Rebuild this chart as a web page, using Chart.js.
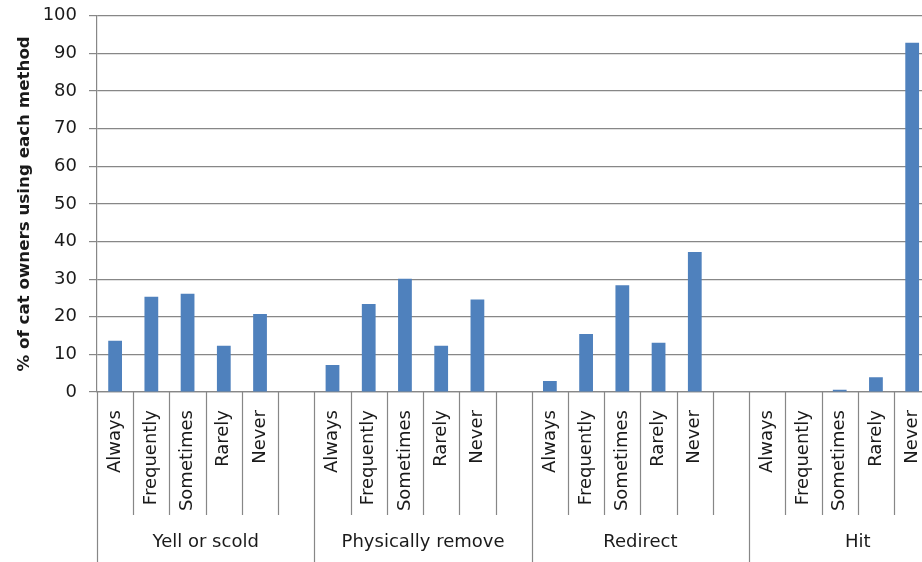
<!DOCTYPE html>
<html>
<head>
<meta charset="utf-8">
<script src="https://cdn.jsdelivr.net/npm/chart.js@4.4.1/dist/chart.umd.min.js"></script>
<style>
  html, body { margin: 0; padding: 0; background: #ffffff; overflow: hidden; }
  #wrap { position: relative; width: 988px; height: 562px; }
</style>
</head>
<body>
<div id="wrap"><canvas id="c"></canvas></div>
<script>
// ---- data ----
const groups = ['Yell or scold', 'Physically remove', 'Redirect', 'Hit'];
const levels = ['Always', 'Frequently', 'Sometimes', 'Rarely', 'Never'];
const yellOrScold      = [13.6, 25.3, 26.1, 12.3, 20.7];
const physicallyRemove = [7.2, 23.4, 30.1, 12.3, 24.6];
const redirect         = [2.9, 15.4, 28.4, 13.1, 37.2];
const hit              = [0, 0, 0.6, 3.9, 92.8];
const yTicks = [0, 10, 20, 30, 40, 50, 60, 70, 80, 90, 100];
const yTitle = '% of cat owners using each method';

// build slots: 5 levels + one empty gap slot per group
const seriesByGroup = [yellOrScold, physicallyRemove, redirect, hit];
const slotLabels = [];
const slotValues = [];
seriesByGroup.forEach(vals => {
  levels.forEach((lv, i) => { slotLabels.push(lv); slotValues.push(vals[i]); });
  slotLabels.push(''); slotValues.push(null);
});
const slotsPerGroup = levels.length + 1;

const TEXT = '#1a1a1a';
const GRID = '#878787';

const separators = {
  id: 'separators',
  afterDraw(chart) {
    const x = chart.scales.x;
    const ctx = chart.ctx;
    const top = chart.chartArea.bottom;
    ctx.save();
    ctx.strokeStyle = GRID;
    ctx.lineWidth = 1.2;
    for (let i = 0; i <= slotLabels.length; i++) {
      const px = Math.round(x.getPixelForValue(i - 0.5)) + 0.5;
      const bottom = (i % slotsPerGroup === 0) ? chart.height : x.bottom;
      ctx.beginPath();
      ctx.moveTo(px, top);
      ctx.lineTo(px, bottom);
      ctx.stroke();
    }
    ctx.restore();
  }
};

new Chart(document.getElementById('c'), {
  type: 'bar',
  data: {
    labels: slotLabels,
    datasets: [{
      data: slotValues,
      backgroundColor: '#4F81BD',
      borderWidth: 0,
      barPercentage: 0.38,
      categoryPercentage: 1.0
    }]
  },
  options: {
    responsive: true,
    maintainAspectRatio: false,
    animation: false,
    layout: { padding: { top: 0, right: 0, bottom: 0, left: 0 } },
    plugins: { legend: { display: false }, tooltip: { enabled: false } },
    scales: {
      x: {
        type: 'category',
        position: 'bottom',
        weight: 0,
        offset: true,
        grid: { display: false, drawTicks: false },
        border: { display: true, color: GRID, width: 1.2 },
        ticks: {
          autoSkip: false,
          minRotation: 90,
          maxRotation: 90,
          padding: 18,
          color: TEXT,
          font: { family: 'DejaVu Sans', size: 18 }
        },
        afterFit(s) { s.height = 123; }
      },
      xGroup: {
        type: 'category',
        axis: 'x',
        position: 'bottom',
        weight: 1,
        offset: true,
        labels: groups,
        grid: { display: false, drawTicks: false },
        border: { display: false },
        ticks: {
          autoSkip: false,
          maxRotation: 0,
          padding: 17,
          color: TEXT,
          font: { family: 'DejaVu Sans', size: 18 }
        },
        afterFit(s) { s.height = 47; }
      },
      y: {
        min: 0,
        max: 100,
        afterBuildTicks(s) { s.ticks = yTicks.map(v => ({ value: v })); },
        grid: { color: GRID, lineWidth: 1.2, drawTicks: true, tickLength: 8, tickColor: GRID },
        border: { display: true, color: GRID, width: 1.2 },
        ticks: {
          padding: 12,
          color: TEXT,
          font: { family: 'DejaVu Sans', size: 18, lineHeight: 0.42 }
        },
        title: {
          display: true,
          text: yTitle,
          color: TEXT,
          font: { family: 'DejaVu Sans', size: 16.7, weight: 'bold' },
          padding: { top: 15, bottom: 0 }
        },
        afterFit(s) { s.width = 97; }
      }
    }
  },
  plugins: [separators]
});
</script>
</body>
</html>
